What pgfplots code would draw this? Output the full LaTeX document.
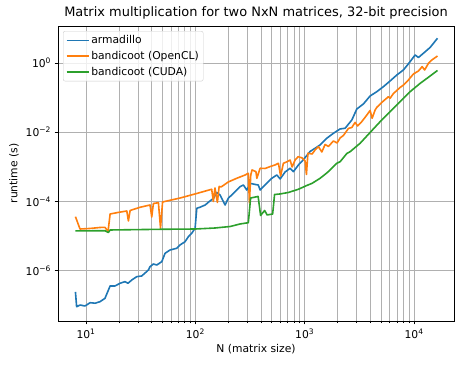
\documentclass[border=0pt]{standalone}
\usepackage{fontspec}
\setmainfont{DejaVu Sans}
\usepackage{pgfplots}
\pgfplotsset{compat=1.18}

\definecolor{mplblue}{HTML}{1F77B4}
\definecolor{mplorange}{HTML}{FF7F0E}
\definecolor{mplgreen}{HTML}{2CA02C}
\definecolor{mplgrid}{HTML}{B0B0B0}

\begin{document}
\begin{tikzpicture}
\begin{axis}[
    xmode=log, ymode=log,
    scale only axis,
    width=396bp, height=295bp,
    xmin=5.54, xmax=23200,
    ymin=3.49e-8, ymax=11.7,
    xtick={10,100,1000,10000},
    xticklabels={10\textsuperscript{1},10\textsuperscript{2},10\textsuperscript{3},10\textsuperscript{4}},
    ytick={1e-6,1e-4,1e-2,1},
    yticklabels={10\textsuperscript{−6},10\textsuperscript{−4},10\textsuperscript{−2},10\textsuperscript{0}},
    yminorticks=false,
    tick align=outside, tick pos=left,
    major tick length=3.5bp, minor tick length=2bp,
    every tick/.style={black, line width=0.8bp},
    xmajorgrids, xminorgrids, ymajorgrids,
    grid style={draw=mplgrid, line width=0.8bp},
    axis line style={line width=0.8bp},
    tick label style={font=\fontsize{10.8}{13}\selectfont},
    xticklabel style={yshift=-1bp},
    title={Matrix multiplication for two NxN matrices, 32-bit precision},
    title style={font=\fontsize{13}{15}\selectfont, yshift=-3bp},
    xlabel={N (matrix size)},
    ylabel={runtime (s)},
    label style={font=\fontsize{10.8}{13}\selectfont},
    xlabel style={yshift=1bp},
    legend style={at={(0,1)}, anchor=north west, xshift=5bp, yshift=-5bp,
        draw=black!20, rounded corners=2bp, fill=white, fill opacity=0.8, text opacity=1,
        font=\fontsize{10.8}{13}\selectfont, inner sep=2.5bp, row sep=2bp},
    legend cell align=left,
    legend image code/.code={\draw[#1, line width=1.6bp] (0bp,0bp) -- (22bp,0bp);},
]
\addplot[mplblue, line width=1.6bp, line join=round, no marks] coordinates {
(8,2.41e-7) (8.2,9.06e-8) (8.81,1.01e-7) (9.79,9.48e-8) (10.9,1.18e-7) (12.1,1.14e-7)
(13.4,1.26e-7) (14.9,1.58e-7) (16.6,3.59e-7) (18.4,3.59e-7) (20.5,4.30e-7) (22.7,4.78e-7)
(24.2,4.30e-7) (26.2,5.35e-7) (29.1,6.67e-7) (32.3,6.98e-7) (37.2,1.04e-6) (38.5,1.30e-6)
(41.3,1.55e-6) (44.4,1.45e-6) (49.3,1.81e-6) (52.8,3.16e-6) (58.7,3.94e-6) (67.6,4.41e-6)
(72.4,5.50e-6) (80.5,6.84e-6) (86.3,9.55e-6) (92.7,1.20e-5) (99.4,1.67e-5) (103,6.31e-5)
(110,6.75e-5) (123,7.87e-5) (136,1.03e-4) (146,1.21e-4) (157,1.81e-4) (168,1.53e-4)
(187,7.87e-5) (200,1.23e-4) (231,1.91e-4) (256,2.66e-4) (275,2.98e-4) (295,2.13e-4)
(320,3.30e-4) (350,3.10e-4) (376,2.98e-4) (391,2.13e-4) (434,2.98e-4) (500,4.65e-4)
(556,5.79e-4) (596,4.44e-4) (662,7.08e-4) (735,9.05e-4) (788,7.22e-4) (876,1.13e-3)
(967,1.57e-3) (1120,2.77e-3) (1244,3.43e-3) (1383,4.27e-3) (1592,6.67e-3) (1830,9.29e-3)
(2108,1.24e-2) (2343,1.30e-2) (2698,2.25e-2) (2998,4.69e-2) (3443,6.53e-2) (3963,0.111)
(4566,0.148) (5248,0.207) (6040,0.302) (6961,0.450) (8000,0.628) (9204,1.09)
(10230,1.70) (10970,1.44) (12190,1.91) (14030,2.81) (16384,5.18)
};
\addlegendentry{armadillo}
\addplot[mplorange, line width=1.6bp, line join=round, no marks] coordinates {
(8,3.61e-5) (8.81,1.59e-5) (10.9,1.65e-5) (13.4,1.76e-5) (14.9,1.78e-5) (15.9,1.35e-5)
(16.6,4.32e-5) (19.6,4.78e-5) (23.6,5.28e-5) (24.4,2.71e-5) (25.3,5.46e-5) (31.2,6.75e-5)
(38.5,7.87e-5) (39.9,3.54e-5) (41.3,8.69e-5) (45.9,9.17e-5) (48.0,1.70e-5) (50.1,9.61e-5)
(72.4,1.25e-4) (99.4,1.64e-4) (141,2.24e-4) (146,9.93e-5) (151,2.44e-4) (159,9.29e-5)
(165,2.70e-4) (172,2.61e-4) (200,3.64e-4) (239,4.65e-4) (285,5.79e-4) (305,6.49e-4)
(312,8.99e-5) (321,5.79e-4) (330,8.09e-4) (358,7.22e-4) (365,4.65e-4) (391,9.05e-4)
(434,8.93e-4) (482,1.01e-3) (536,1.13e-3) (575,1.26e-3) (602,5.42e-4) (638,1.26e-3)
(690,1.40e-3) (735,1.57e-3) (767,9.87e-4) (817,1.57e-3) (871,1.96e-3) (946,1.80e-3)
(1009,1.47e-3) (1037,5.99e-4) (1070,2.46e-3) (1169,2.34e-3) (1244,3.06e-3) (1335,3.81e-3)
(1434,2.68e-3) (1537,4.41e-3) (1648,3.86e-3) (1830,5.57e-3) (1979,4.87e-3) (2108,6.80e-3)
(2260,8.03e-3) (2510,1.28e-2) (2698,1.37e-2) (2891,1.91e-2) (3048,1.51e-2) (3281,1.91e-2)
(3647,2.94e-2) (3963,4.24e-2) (4136,2.52e-2) (4406,4.38e-2) (4597,5.35e-2) (5248,7.98e-2)
(5834,0.106) (6040,9.55e-2) (6480,0.131) (7462,0.196) (8000,0.231) (8888,0.323)
(9874,0.481) (10970,0.587) (11860,0.782) (12500,0.628) (13550,0.98) (14560,1.22)
(16384,1.59)
};
\addlegendentry{bandicoot (OpenCL)}
\addplot[mplgreen, line width=1.6bp, line join=round, no marks] coordinates {
(8,1.40e-5) (14.9,1.42e-5) (16.0,1.26e-5) (16.6,1.49e-5) (47.5,1.56e-5) (99.4,1.59e-5)
(151,1.70e-5) (208,1.88e-5) (256,2.22e-5) (305,2.42e-5) (320,1.25e-4) (375,1.39e-4)
(395,3.91e-5) (430,5.46e-5) (453,4.05e-5) (509,4.32e-5) (530,1.58e-4) (596,1.64e-4)
(710,1.81e-4) (876,2.24e-4) (1045,2.88e-4) (1169,3.33e-4) (1383,4.65e-4) (1592,6.62e-4)
(1708,8.09e-4) (1966,1.26e-3) (2108,1.40e-3) (2427,2.42e-3) (2602,2.73e-3) (3213,4.78e-3)
(3963,9.80e-3) (4896,2.01e-2) (6040,3.91e-2) (7462,7.62e-2) (9204,0.148) (11400,0.259)
(13460,0.381) (16384,0.607)
};
\addlegendentry{bandicoot (CUDA)}
\end{axis}
\pgfresetboundingbox
\path[use as bounding box] (current axis.south west) ++(-58bp,-44bp) rectangle ([xshift=8bp,yshift=26bp]current axis.north east);
\end{tikzpicture}
\end{document}
